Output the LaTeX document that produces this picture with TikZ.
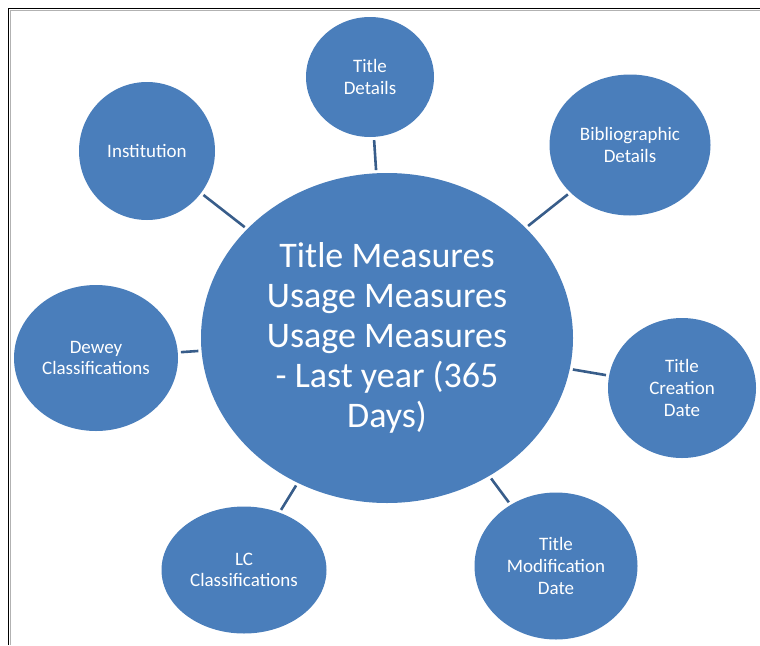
\documentclass[tikz,border=0pt]{standalone}
\usepackage{fontspec}
\setmainfont{Carlito}
\usetikzlibrary{shapes.geometric}
\definecolor{bubble}{RGB}{74,126,187}
\definecolor{linkc}{RGB}{56,93,138}
\begin{document}
\begin{tikzpicture}[x=1pt,y=-1pt,
  bub/.style={ellipse,fill=bubble,draw=none,inner sep=0pt,text=white,align=center},
  sat/.style={bub,font=\fontsize{19}{21.7}\selectfont},
  link/.style={draw=linkc,line width=2.6pt,shorten <=3pt,shorten >=3pt}]
\useasboundingbox (0,0) rectangle (760,645);
% frame
\draw[gray!60,line width=1pt] (10,645) -- (10,10) -- (760,10);
\draw[black,line width=1.3pt] (8.5,645) -- (8.5,8.5) -- (760,8.5);
% central
\node[bub,minimum width=372pt,minimum height=330pt] (c) at (387,338) {};
\node[text=white,align=center,inner sep=0pt,font=\fontsize{36}{40}\selectfont] (ct) at (387,338)
  {Title Measures\\Usage Measures\\Usage Measures\\- Last year (365\\Days)};
% satellites
\node[sat,minimum width=128pt,minimum height=120pt] (td) at (370,77) {Title\\Details};
\node[sat,minimum width=161pt,minimum height=141pt] (bd) at (630,145) {Bibliographic\\Details};
\node[sat,minimum width=136pt,minimum height=138pt] (in) at (147,151) {Institution};
\node[sat,minimum width=164pt,minimum height=146pt] (dc) at (96,358) {Dewey\\Classifications};
\node[sat,minimum width=148pt,minimum height=140pt] (tc) at (682,388) {Title\\Creation\\Date};
\node[sat,minimum width=165pt,minimum height=127pt] (lc) at (244,570) {LC\\Classifications};
\node[sat,minimum width=163pt,minimum height=147pt] (tm) at (556,566) {Title\\Modification\\Date};
% connectors
\draw[link] (td) -- (c);
\draw[link] (bd) -- (c);
\draw[link] (in) -- (c);
\draw[link] (dc) -- (c);
\draw[link] (tc) -- (c);
\draw[link] (lc) -- (c);
\draw[link] (tm) -- (c);
\end{tikzpicture}
\end{document}
